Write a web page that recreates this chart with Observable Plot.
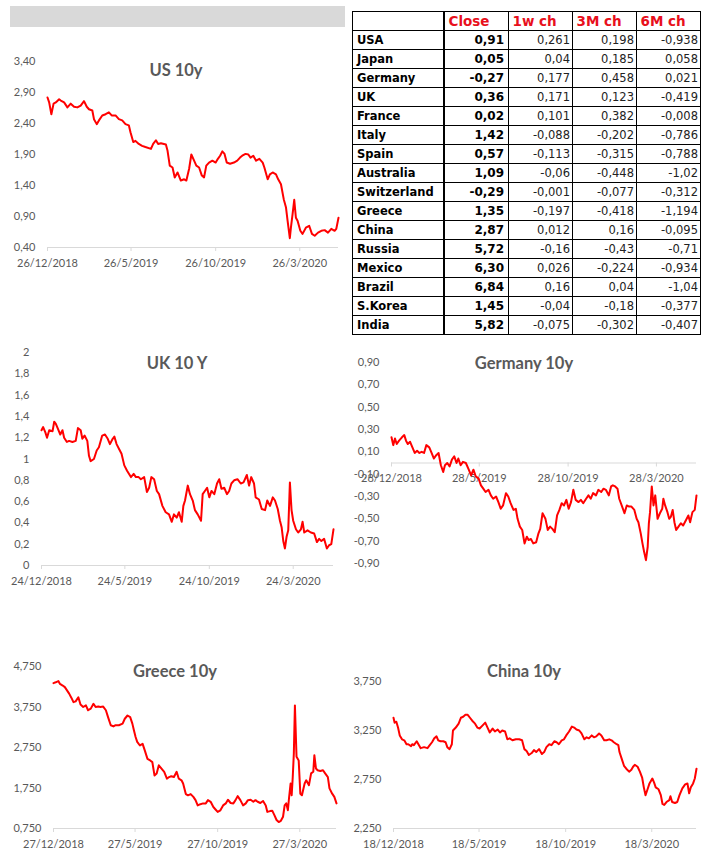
<!DOCTYPE html>
<html><head><meta charset="utf-8">
<script src="https://cdn.jsdelivr.net/npm/d3@7"></script>
<script src="https://cdn.jsdelivr.net/npm/@observablehq/plot@0.6"></script>
<style>
body{margin:0;background:#fff;width:709px;height:862px;position:relative;overflow:hidden;font-family:Lato,"Open Sans",sans-serif;}
.box{position:absolute;}
.title{position:absolute;font-family:Lato,sans-serif;font-weight:bold;font-size:16.5px;line-height:20px;color:#595959;transform:translateX(-50%);white-space:nowrap;}
.band{position:absolute;left:10px;top:6px;width:335px;height:21px;background:#d9d9d9;}
</style></head><body>
<div class="band"></div>
<script>
// ---------- Table data ----------
const countries = ["USA","Japan","Germany","UK","France","Italy","Spain","Australia","Switzerland","Greece","China","Russia","Mexico","Brazil","S.Korea","India"];
const tableColumns = ["Close","1w ch","3M ch","6M ch"];
const closeValues = [0.91,0.05,-0.27,0.36,0.02,1.42,0.57,1.09,-0.29,1.35,2.87,5.72,6.30,6.84,1.45,5.82];
const change1w = [0.261,0.04,0.177,0.171,0.101,-0.088,-0.113,-0.06,-0.001,-0.197,0.012,-0.16,0.026,0.16,-0.04,-0.075];
const change3m = [0.198,0.185,0.458,0.123,0.382,-0.202,-0.315,-0.448,-0.077,-0.418,0.16,-0.43,-0.224,0.04,-0.18,-0.302];
const change6m = [-0.938,0.058,0.021,-0.419,-0.008,-0.786,-0.788,-1.02,-0.312,-1.194,-0.095,-0.71,-0.934,-1.04,-0.377,-0.407];

// ---------- Series data ----------
const usSeries = [["2018-12-26",2.82],["2018-12-29",2.74],["2019-01-02",2.55],["2019-01-06",2.72],["2019-01-10",2.74],["2019-01-16",2.79],["2019-01-19",2.77],["2019-01-25",2.74],["2019-01-31",2.66],["2019-02-06",2.72],["2019-02-12",2.67],["2019-02-18",2.66],["2019-02-24",2.69],["2019-03-02",2.76],["2019-03-07",2.67],["2019-03-11",2.63],["2019-03-17",2.61],["2019-03-20",2.47],["2019-03-25",2.39],["2019-03-29",2.45],["2019-04-04",2.53],["2019-04-10",2.55],["2019-04-16",2.58],["2019-04-21",2.53],["2019-04-28",2.53],["2019-05-04",2.47],["2019-05-10",2.45],["2019-05-16",2.39],["2019-05-22",2.37],["2019-05-25",2.26],["2019-05-30",2.10],["2019-06-03",2.12],["2019-06-09",2.07],["2019-06-15",2.04],["2019-06-21",2.02],["2019-07-01",1.99],["2019-07-05",2.07],["2019-07-10",2.13],["2019-07-14",2.07],["2019-07-19",2.08],["2019-07-28",2.06],["2019-07-31",1.96],["2019-08-04",1.72],["2019-08-09",1.69],["2019-08-13",1.53],["2019-08-18",1.61],["2019-08-24",1.48],["2019-08-30",1.50],["2019-09-03",1.48],["2019-09-08",1.67],["2019-09-12",1.90],["2019-09-17",1.80],["2019-09-21",1.72],["2019-09-26",1.69],["2019-10-01",1.56],["2019-10-05",1.53],["2019-10-09",1.72],["2019-10-14",1.77],["2019-10-20",1.80],["2019-10-26",1.77],["2019-10-30",1.83],["2019-11-03",1.88],["2019-11-07",1.95],["2019-11-11",1.91],["2019-11-15",1.77],["2019-11-21",1.75],["2019-11-28",1.77],["2019-12-04",1.80],["2019-12-09",1.85],["2019-12-13",1.88],["2019-12-19",1.91],["2019-12-24",1.90],["2019-12-28",1.85],["2020-01-02",1.88],["2020-01-07",1.80],["2020-01-13",1.83],["2020-01-19",1.77],["2020-01-22",1.69],["2020-01-28",1.50],["2020-02-01",1.58],["2020-02-06",1.61],["2020-02-12",1.58],["2020-02-16",1.50],["2020-02-21",1.42],["2020-02-26",1.18],["2020-03-01",1.05],["2020-03-04",0.83],["2020-03-08",0.55],["2020-03-10",0.72],["2020-03-13",0.94],["2020-03-16",1.17],["2020-03-19",0.88],["2020-03-22",0.83],["2020-03-27",0.67],["2020-03-31",0.62],["2020-04-06",0.72],["2020-04-12",0.75],["2020-04-17",0.62],["2020-04-22",0.59],["2020-04-28",0.64],["2020-05-04",0.67],["2020-05-10",0.68],["2020-05-16",0.64],["2020-05-22",0.70],["2020-05-28",0.67],["2020-05-31",0.70],["2020-06-04",0.88]];
const ukSeries = [["2018-12-24",1.27],["2018-12-27",1.30],["2018-12-31",1.25],["2019-01-03",1.20],["2019-01-07",1.27],["2019-01-13",1.26],["2019-01-16",1.35],["2019-01-19",1.33],["2019-01-23",1.28],["2019-01-27",1.23],["2019-01-31",1.27],["2019-02-03",1.20],["2019-02-08",1.16],["2019-02-12",1.17],["2019-02-18",1.16],["2019-02-24",1.17],["2019-02-28",1.29],["2019-03-05",1.27],["2019-03-08",1.19],["2019-03-12",1.22],["2019-03-17",1.17],["2019-03-20",1.03],["2019-03-23",0.98],["2019-03-29",1.00],["2019-04-03",1.08],["2019-04-07",1.11],["2019-04-13",1.22],["2019-04-18",1.23],["2019-04-23",1.19],["2019-04-27",1.14],["2019-05-02",1.19],["2019-05-05",1.21],["2019-05-09",1.14],["2019-05-14",1.09],["2019-05-18",1.05],["2019-05-23",0.94],["2019-05-28",0.89],["2019-06-04",0.83],["2019-06-09",0.86],["2019-06-13",0.83],["2019-06-18",0.83],["2019-06-22",0.81],["2019-06-28",0.83],["2019-07-03",0.69],["2019-07-07",0.73],["2019-07-11",0.83],["2019-07-16",0.81],["2019-07-21",0.70],["2019-07-25",0.67],["2019-07-31",0.56],["2019-08-06",0.50],["2019-08-12",0.48],["2019-08-17",0.41],["2019-08-21",0.48],["2019-08-26",0.45],["2019-08-30",0.50],["2019-09-04",0.41],["2019-09-07",0.56],["2019-09-10",0.61],["2019-09-15",0.75],["2019-09-19",0.67],["2019-09-24",0.61],["2019-09-28",0.52],["2019-10-03",0.48],["2019-10-09",0.42],["2019-10-12",0.67],["2019-10-16",0.70],["2019-10-20",0.73],["2019-10-24",0.64],["2019-10-28",0.70],["2019-11-02",0.67],["2019-11-07",0.77],["2019-11-11",0.81],["2019-11-15",0.72],["2019-11-20",0.73],["2019-11-25",0.67],["2019-11-29",0.70],["2019-12-03",0.77],["2019-12-08",0.80],["2019-12-14",0.81],["2019-12-20",0.77],["2019-12-25",0.78],["2019-12-31",0.85],["2020-01-04",0.75],["2020-01-08",0.83],["2020-01-13",0.77],["2020-01-16",0.64],["2020-01-22",0.62],["2020-01-27",0.53],["2020-02-02",0.52],["2020-02-06",0.61],["2020-02-11",0.56],["2020-02-16",0.64],["2020-02-20",0.61],["2020-02-25",0.53],["2020-02-29",0.42],["2020-03-03",0.36],["2020-03-06",0.23],["2020-03-09",0.16],["2020-03-12",0.27],["2020-03-15",0.33],["2020-03-18",0.78],["2020-03-21",0.52],["2020-03-24",0.42],["2020-03-29",0.34],["2020-04-02",0.31],["2020-04-07",0.34],["2020-04-10",0.41],["2020-04-13",0.31],["2020-04-19",0.33],["2020-04-25",0.31],["2020-05-01",0.30],["2020-05-06",0.22],["2020-05-10",0.25],["2020-05-14",0.23],["2020-05-19",0.25],["2020-05-24",0.16],["2020-05-28",0.19],["2020-06-01",0.20],["2020-06-05",0.34]];
const germanySeries = [["2018-12-28",0.23],["2018-12-31",0.16],["2019-01-03",0.22],["2019-01-06",0.17],["2019-01-10",0.20],["2019-01-15",0.23],["2019-01-19",0.25],["2019-01-22",0.20],["2019-01-25",0.17],["2019-01-29",0.19],["2019-02-02",0.14],["2019-02-06",0.09],["2019-02-10",0.11],["2019-02-14",0.09],["2019-02-18",0.10],["2019-02-22",0.09],["2019-02-26",0.16],["2019-03-03",0.14],["2019-03-07",0.09],["2019-03-11",0.04],["2019-03-15",0.07],["2019-03-19",0.09],["2019-03-23",-0.02],["2019-03-27",-0.08],["2019-03-30",-0.02],["2019-04-03",0.00],["2019-04-07",-0.03],["2019-04-11",0.03],["2019-04-15",0.06],["2019-04-19",0.00],["2019-04-22",0.04],["2019-04-26",-0.02],["2019-04-30",0.01],["2019-05-05",0.00],["2019-05-10",-0.06],["2019-05-14",-0.11],["2019-05-18",-0.06],["2019-05-22",-0.12],["2019-05-27",-0.14],["2019-05-31",-0.20],["2019-06-04",-0.23],["2019-06-08",-0.26],["2019-06-13",-0.24],["2019-06-17",-0.29],["2019-06-21",-0.32],["2019-06-26",-0.30],["2019-06-30",-0.35],["2019-07-04",-0.41],["2019-07-08",-0.38],["2019-07-13",-0.27],["2019-07-17",-0.30],["2019-07-21",-0.36],["2019-07-26",-0.42],["2019-07-30",-0.41],["2019-08-02",-0.50],["2019-08-06",-0.57],["2019-08-10",-0.60],["2019-08-14",-0.72],["2019-08-18",-0.66],["2019-08-21",-0.69],["2019-08-25",-0.68],["2019-08-29",-0.72],["2019-09-03",-0.71],["2019-09-07",-0.63],["2019-09-10",-0.59],["2019-09-14",-0.45],["2019-09-19",-0.50],["2019-09-23",-0.60],["2019-09-27",-0.57],["2019-10-01",-0.59],["2019-10-05",-0.62],["2019-10-09",-0.47],["2019-10-13",-0.42],["2019-10-17",-0.36],["2019-10-21",-0.38],["2019-10-25",-0.33],["2019-10-29",-0.41],["2019-11-02",-0.35],["2019-11-06",-0.24],["2019-11-10",-0.33],["2019-11-15",-0.35],["2019-11-19",-0.33],["2019-11-23",-0.36],["2019-11-28",-0.32],["2019-12-02",-0.29],["2019-12-06",-0.32],["2019-12-10",-0.27],["2019-12-15",-0.29],["2019-12-19",-0.24],["2019-12-24",-0.26],["2019-12-28",-0.23],["2020-01-01",-0.24],["2020-01-06",-0.29],["2020-01-10",-0.21],["2020-01-13",-0.20],["2020-01-17",-0.21],["2020-01-21",-0.23],["2020-01-24",-0.32],["2020-01-29",-0.39],["2020-02-02",-0.45],["2020-02-06",-0.38],["2020-02-10",-0.39],["2020-02-14",-0.39],["2020-02-19",-0.42],["2020-02-23",-0.50],["2020-02-26",-0.53],["2020-03-01",-0.63],["2020-03-04",-0.72],["2020-03-07",-0.80],["2020-03-10",-0.87],["2020-03-13",-0.75],["2020-03-15",-0.54],["2020-03-17",-0.44],["2020-03-20",-0.21],["2020-03-23",-0.38],["2020-03-26",-0.29],["2020-03-30",-0.50],["2020-04-03",-0.45],["2020-04-07",-0.41],["2020-04-09",-0.32],["2020-04-12",-0.38],["2020-04-16",-0.44],["2020-04-19",-0.50],["2020-04-22",-0.48],["2020-04-25",-0.42],["2020-04-28",-0.53],["2020-05-01",-0.60],["2020-05-05",-0.57],["2020-05-09",-0.54],["2020-05-13",-0.56],["2020-05-18",-0.51],["2020-05-22",-0.47],["2020-05-25",-0.53],["2020-05-29",-0.44],["2020-06-02",-0.42],["2020-06-05",-0.29]];
const greeceSeries = [["2018-12-27",4.34],["2018-12-31",4.36],["2019-01-05",4.39],["2019-01-08",4.32],["2019-01-13",4.28],["2019-01-17",4.24],["2019-01-21",4.16],["2019-01-25",4.08],["2019-01-29",3.98],["2019-02-02",3.87],["2019-02-06",3.89],["2019-02-11",3.99],["2019-02-15",3.81],["2019-02-20",3.75],["2019-02-25",3.79],["2019-03-01",3.67],["2019-03-06",3.71],["2019-03-11",3.83],["2019-03-15",3.75],["2019-03-20",3.76],["2019-03-24",3.75],["2019-03-29",3.76],["2019-04-03",3.67],["2019-04-07",3.50],["2019-04-12",3.30],["2019-04-17",3.27],["2019-04-21",3.30],["2019-04-27",3.30],["2019-05-04",3.34],["2019-05-08",3.46],["2019-05-13",3.54],["2019-05-18",3.50],["2019-05-22",3.34],["2019-05-25",3.17],["2019-05-28",3.01],["2019-05-31",2.89],["2019-06-05",2.80],["2019-06-10",2.84],["2019-06-14",2.68],["2019-06-19",2.47],["2019-06-24",2.43],["2019-06-28",2.39],["2019-07-02",2.06],["2019-07-06",2.11],["2019-07-10",2.31],["2019-07-15",2.23],["2019-07-20",2.15],["2019-07-25",1.98],["2019-07-29",2.02],["2019-08-02",2.04],["2019-08-07",2.02],["2019-08-12",2.15],["2019-08-16",1.98],["2019-08-21",1.94],["2019-08-24",1.86],["2019-08-29",1.60],["2019-09-02",1.57],["2019-09-07",1.60],["2019-09-12",1.53],["2019-09-16",1.45],["2019-09-20",1.32],["2019-09-25",1.35],["2019-09-30",1.37],["2019-10-05",1.37],["2019-10-09",1.45],["2019-10-14",1.41],["2019-10-19",1.28],["2019-10-23",1.22],["2019-10-27",1.16],["2019-11-01",1.20],["2019-11-06",1.32],["2019-11-11",1.37],["2019-11-15",1.46],["2019-11-20",1.38],["2019-11-25",1.37],["2019-11-29",1.45],["2019-12-03",1.55],["2019-12-08",1.45],["2019-12-13",1.32],["2019-12-18",1.37],["2019-12-22",1.45],["2019-12-27",1.46],["2020-01-01",1.41],["2020-01-05",1.45],["2020-01-09",1.41],["2020-01-14",1.38],["2020-01-19",1.43],["2020-01-24",1.32],["2020-01-27",1.16],["2020-02-01",1.18],["2020-02-05",1.19],["2020-02-09",1.08],["2020-02-13",0.96],["2020-02-17",0.91],["2020-02-21",0.94],["2020-02-25",1.04],["2020-02-28",1.32],["2020-03-02",1.37],["2020-03-05",1.20],["2020-03-07",1.49],["2020-03-10",1.86],["2020-03-12",1.57],["2020-03-14",2.02],["2020-03-16",2.60],["2020-03-18",3.79],["2020-03-20",2.93],["2020-03-21",2.52],["2020-03-25",2.43],["2020-03-28",1.61],["2020-03-31",1.57],["2020-04-05",1.86],["2020-04-08",1.94],["2020-04-13",1.82],["2020-04-17",2.11],["2020-04-21",2.15],["2020-04-23",2.56],["2020-04-26",2.23],["2020-04-29",2.19],["2020-05-04",2.17],["2020-05-09",2.19],["2020-05-13",2.11],["2020-05-18",2.02],["2020-05-21",1.74],["2020-05-26",1.61],["2020-05-30",1.53],["2020-06-03",1.37]];
const chinaSeries = [["2018-12-18",3.38],["2018-12-20",3.33],["2018-12-23",3.34],["2018-12-26",3.28],["2018-12-29",3.20],["2019-01-02",3.16],["2019-01-06",3.15],["2019-01-10",3.11],["2019-01-13",3.11],["2019-01-18",3.09],["2019-01-20",3.11],["2019-01-23",3.10],["2019-01-28",3.14],["2019-01-31",3.11],["2019-02-04",3.07],["2019-02-10",3.08],["2019-02-16",3.07],["2019-02-20",3.10],["2019-02-24",3.13],["2019-02-28",3.17],["2019-03-04",3.19],["2019-03-07",3.15],["2019-03-11",3.14],["2019-03-16",3.14],["2019-03-20",3.13],["2019-03-23",3.08],["2019-03-27",3.06],["2019-03-31",3.11],["2019-04-02",3.25],["2019-04-07",3.28],["2019-04-12",3.32],["2019-04-16",3.38],["2019-04-20",3.39],["2019-04-24",3.41],["2019-04-28",3.41],["2019-05-02",3.38],["2019-05-06",3.35],["2019-05-11",3.32],["2019-05-15",3.28],["2019-05-19",3.27],["2019-05-24",3.30],["2019-05-29",3.33],["2019-06-02",3.28],["2019-06-06",3.23],["2019-06-11",3.27],["2019-06-15",3.24],["2019-06-20",3.26],["2019-06-24",3.23],["2019-06-28",3.25],["2019-07-03",3.24],["2019-07-07",3.16],["2019-07-11",3.17],["2019-07-16",3.15],["2019-07-22",3.16],["2019-07-28",3.16],["2019-08-02",3.15],["2019-08-06",3.06],["2019-08-10",3.04],["2019-08-14",3.00],["2019-08-19",3.02],["2019-08-23",3.05],["2019-08-27",3.03],["2019-09-01",3.06],["2019-09-06",3.01],["2019-09-10",3.03],["2019-09-14",3.08],["2019-09-19",3.11],["2019-09-23",3.10],["2019-09-28",3.14],["2019-10-02",3.13],["2019-10-06",3.11],["2019-10-11",3.15],["2019-10-15",3.16],["2019-10-19",3.20],["2019-10-24",3.24],["2019-10-29",3.29],["2019-11-02",3.28],["2019-11-06",3.26],["2019-11-11",3.25],["2019-11-15",3.22],["2019-11-20",3.16],["2019-11-24",3.18],["2019-11-28",3.17],["2019-12-03",3.20],["2019-12-07",3.18],["2019-12-11",3.19],["2019-12-16",3.22],["2019-12-20",3.20],["2019-12-25",3.15],["2019-12-29",3.15],["2020-01-03",3.16],["2020-01-07",3.15],["2020-01-11",3.13],["2020-01-16",3.11],["2020-01-19",3.10],["2020-01-21",3.03],["2020-01-25",2.96],["2020-01-29",2.89],["2020-02-02",2.86],["2020-02-07",2.83],["2020-02-11",2.85],["2020-02-14",2.88],["2020-02-17",2.90],["2020-02-22",2.88],["2020-02-26",2.83],["2020-03-01",2.77],["2020-03-04",2.67],["2020-03-07",2.59],["2020-03-10",2.64],["2020-03-14",2.71],["2020-03-19",2.76],["2020-03-22",2.72],["2020-03-25",2.67],["2020-03-30",2.65],["2020-04-03",2.59],["2020-04-06",2.50],["2020-04-09",2.49],["2020-04-13",2.52],["2020-04-18",2.54],["2020-04-20",2.58],["2020-04-23",2.52],["2020-04-28",2.51],["2020-05-02",2.52],["2020-05-06",2.59],["2020-05-11",2.66],["2020-05-16",2.70],["2020-05-20",2.71],["2020-05-23",2.61],["2020-05-26",2.67],["2020-05-30",2.71],["2020-06-02",2.76],["2020-06-05",2.86]];

// ---------- Tick values ----------
const usXTicks = ["2018-12-26","2019-05-26","2019-10-26","2020-03-26"];
const ukXTicks = ["2018-12-24","2019-05-24","2019-10-24","2020-03-24"];
const germanyXTicks = ["2018-12-28","2019-05-28","2019-10-28","2020-03-28"];
const greeceXTicks = ["2018-12-27","2019-05-27","2019-10-27","2020-03-27"];
const chinaXTicks = ["2018-12-18","2019-05-18","2019-10-18","2020-03-18"];
const usYTicks = [0.4,0.9,1.4,1.9,2.4,2.9,3.4];
const ukYTicks = [0,0.2,0.4,0.6,0.8,1,1.2,1.4,1.6,1.8,2];
const germanyYTicks = [-0.9,-0.7,-0.5,-0.3,-0.1,0.1,0.3,0.5,0.7,0.9];
const greeceYTicks = [0.75,1.75,2.75,3.75,4.75];
const chinaYTicks = [2.25,2.75,3.25,3.75];

const comma = s => s.replace(".", ",");
const fmtDate = d => `${d.getUTCDate()}/${d.getUTCMonth()+1}/${d.getUTCFullYear()}`;

function addBox(node, left, top) {
  const div = document.createElement("div");
  div.className = "box";
  div.style.left = left + "px";
  div.style.top = top + "px";
  div.appendChild(node);
  document.body.appendChild(div);
}
function addTitle(text, cx, cy) {
  const t = document.createElement("div");
  t.className = "title";
  t.textContent = text;
  t.style.left = cx + "px";
  t.style.top = (cy - 10) + "px";
  document.body.appendChild(t);
}

function lineChart(o) {
  const rows = o.data.map(([d, v]) => ({date: new Date(d), value: v}));
  const xt = o.xTicks.map(d => new Date(d));
  const base = o.base;
  const svg = Plot.plot({
    width: o.width, height: o.height,
    marginLeft: o.ml, marginRight: o.mr, marginTop: o.mt, marginBottom: o.mb,
    style: {fontFamily: "Lato, sans-serif", fontSize: "11px", color: "#595959", background: "transparent", overflow: "visible"},
    x: {type: "utc", domain: [rows[0].date, rows[rows.length - 1].date], axis: null},
    y: {domain: o.yDomain, label: null},
    marks: [
      Plot.axisY({ticks: o.yTicks, tickFormat: o.yFormat, tickSize: 0, tickPadding: 12, label: null}),
      Plot.ruleY([base], {stroke: "#d9d9d9", strokeWidth: 1}),
      Plot.ruleX(xt, {x: d => d, y1: base, y2: base, insetBottom: -4, stroke: "#d9d9d9"}),
      Plot.text(xt, {x: d => d, y: base, dy: 15.5, text: fmtDate, fill: "#595959", fontSize: 11}),
      Plot.line(rows, {x: "date", y: "value", stroke: "#ff0000", strokeWidth: 2})
    ]
  });
  addBox(svg, o.left, o.top);
  addTitle(o.title, o.titleX, o.titleY);
}

lineChart({data: usSeries, xTicks: usXTicks, yTicks: usYTicks, yDomain: [0.4, 3.4], base: 0.4,
  yFormat: d => comma(d.toFixed(2)), left: 0, top: 30, width: 345, height: 250, ml: 47, mr: 7, mt: 31, mb: 33,
  title: "US 10y", titleX: 176, titleY: 70});
lineChart({data: ukSeries, xTicks: ukXTicks, yTicks: ukYTicks, yDomain: [0, 2], base: 0,
  yFormat: d => comma(String(+d.toFixed(1))), left: 0, top: 340, width: 345, height: 260, ml: 41, mr: 12, mt: 12, mb: 35,
  title: "UK 10 Y", titleX: 177, titleY: 363});
lineChart({data: germanySeries, xTicks: germanyXTicks, yTicks: germanyYTicks, yDomain: [-0.9, 0.9], base: 0,
  yFormat: d => comma(d.toFixed(2)), left: 345, top: 340, width: 364, height: 260, ml: 46, mr: 13, mt: 22, mb: 37,
  title: "Germany 10y", titleX: 524, titleY: 363});
lineChart({data: greeceSeries, xTicks: greeceXTicks, yTicks: greeceYTicks, yDomain: [0.75, 4.75], base: 0.75,
  yFormat: d => comma(d.toFixed(3)), left: 0, top: 640, width: 345, height: 222, ml: 53, mr: 9, mt: 26, mb: 34,
  title: "Greece 10y", titleX: 175, titleY: 671});
lineChart({data: chinaSeries, xTicks: chinaXTicks, yTicks: chinaYTicks, yDomain: [2.25, 3.75], base: 2.25,
  yFormat: d => comma(d.toFixed(3)), left: 345, top: 640, width: 364, height: 222, ml: 48, mr: 13, mt: 41, mb: 34,
  title: "China 10y", titleX: 524, titleY: 671});

// ---------- Table ----------
const rowIndex = d3.range(countries.length + 1);
const tableFont = "'DejaVu Sans', Verdana, sans-serif";
const nameCells = rowIndex.map(i => ({row: i, text: i === 0 ? "" : countries[i - 1]}));
const nameTable = Plot.plot({
  width: 93, height: 334, marginTop: 1, marginBottom: 1, marginLeft: 1, marginRight: 1,
  style: {background: "transparent", overflow: "visible"},
  x: {type: "band", domain: ["name"], padding: 0, axis: null},
  y: {type: "band", domain: rowIndex, padding: 0, axis: null},
  marks: [
    Plot.cell(nameCells, {x: () => "name", y: "row", fill: "white", stroke: "black", strokeWidth: 1, dx: 0.5, dy: 0.5}),
    Plot.text(nameCells, {x: () => "name", y: "row", text: "text", textAnchor: "start", dx: -41, dy: 0.5,
      fontFamily: tableFont, fontWeight: "bold", fontSize: 11.5, fill: "#000"})
  ]
});
addBox(nameTable, 351, 5);

const columnValues = [closeValues, change1w, change3m, change6m];
const numCells = [];
rowIndex.forEach(i => tableColumns.forEach((c, j) => {
  if (i === 0) numCells.push({row: i, col: c, text: c, kind: "head"});
  else {
    const v = columnValues[j][i - 1];
    numCells.push({row: i, col: c, kind: j === 0 ? "close" : "chg",
      text: j === 0 ? comma(v.toFixed(2)) : comma(String(v))});
  }
}));
const numTable = Plot.plot({
  width: 259, height: 334, marginTop: 1, marginBottom: 1, marginLeft: 1, marginRight: 1,
  style: {background: "transparent", overflow: "visible"},
  x: {type: "band", domain: tableColumns, padding: 0, axis: null},
  y: {type: "band", domain: rowIndex, padding: 0, axis: null},
  marks: [
    Plot.cell(numCells, {x: "col", y: "row", fill: "white", stroke: "black", strokeWidth: 1, dx: 0.5, dy: 0.5}),
    Plot.text(numCells.filter(d => d.kind === "head"), {x: "col", y: "row", text: "text", textAnchor: "start", dx: -28, dy: 0.5,
      fontFamily: tableFont, fontWeight: "bold", fontSize: 13.5, fill: "#e8101c"}),
    Plot.text(numCells.filter(d => d.kind === "close"), {x: "col", y: "row", text: "text", textAnchor: "end", dx: 27.5, dy: 0.5,
      fontFamily: tableFont, fontWeight: "bold", fontSize: 12, fill: "#000"}),
    Plot.text(numCells.filter(d => d.kind === "chg"), {x: "col", y: "row", text: "text", textAnchor: "end", dx: 29.5, dy: 0.5,
      fontFamily: tableFont, fontSize: 11.5, fill: "#222"})
  ]
});
addBox(numTable, 442, 5);
</script>
</body></html>
